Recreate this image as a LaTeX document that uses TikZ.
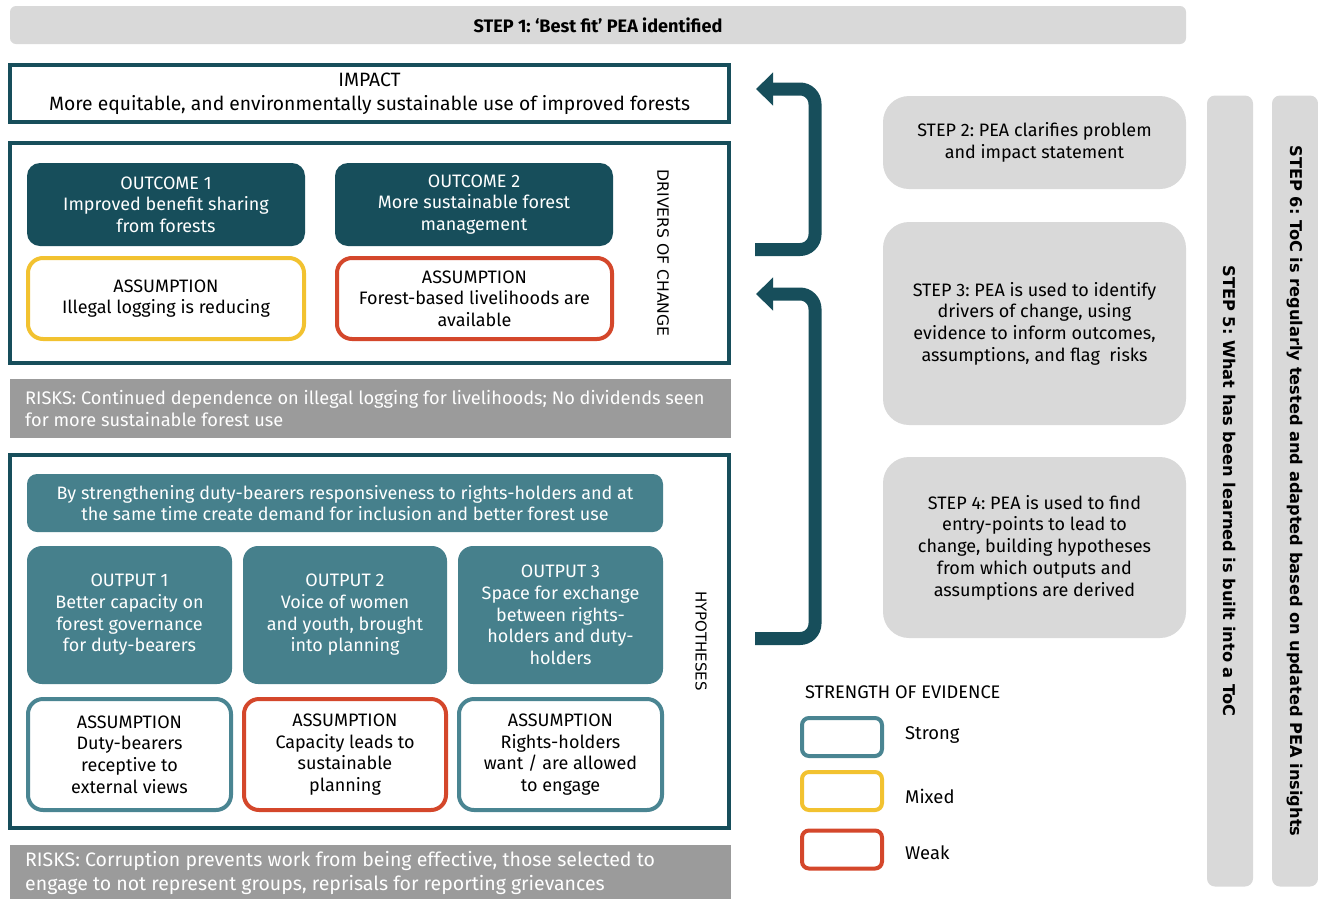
\documentclass[tikz,border=0pt]{standalone}
\usepackage{fontspec}
\setmainfont{Fira Sans}
\newfontfamily\vfont{DejaVu Sans}
\usetikzlibrary{arrows.meta}
\frenchspacing
\definecolor{dteal}{HTML}{174E5B}
\definecolor{mteal}{HTML}{46808C}
\definecolor{steal}{HTML}{4A8592}
\definecolor{myellow}{HTML}{F2C230}
\definecolor{mred}{HTML}{D4472B}
\definecolor{lgray}{HTML}{D9D9D9}
\definecolor{rgray}{HTML}{9B9B9B}
\tikzset{
  base/.style={inner sep=0pt, align=center, font=\frenchspacing\fontsize{18}{21.7}\selectfont},
  frame/.style={draw=dteal, line width=4pt, fill=white},
  darkbox/.style={base, fill=dteal, text=white, rounded corners=13pt},
  midbox/.style={base, fill=mteal, text=white, rounded corners=15pt},
  assume/.style={base, fill=white, line width=4pt, rounded corners=15pt},
  stepbox/.style={base, fill=lgray, rounded corners=26pt},
  riskbox/.style={fill=rgray},
  risktext/.style={inner sep=0pt, align=left, text=white},
  sidetext/.style={inner sep=0pt, rotate=-90, font=\vfont\fontsize{15}{16}\selectfont},
  stepbar/.style={fill=lgray, rounded corners=8pt},
  bartext/.style={inner sep=0pt, rotate=-90, font=\frenchspacing\vfont\bfseries\fontsize{16.2}{18}\selectfont},
  bigarrow/.style={draw=dteal, line width=13pt, rounded corners=15pt, -{Triangle[width=32pt,length=17pt]}},
  legbox/.style={draw, line width=4pt, rounded corners=7pt, minimum width=80pt, minimum height=38pt, inner sep=0pt},
  legtext/.style={inner sep=0pt, anchor=west, font=\fontsize{18.4}{20}\selectfont},
}
\begin{document}
\begin{tikzpicture}[x=1pt,y=-1pt]
\useasboundingbox (0,0) rectangle (1318,898);

% Step 1
\node[stepbox, rounded corners=6pt, minimum width=1176pt, minimum height=38pt,
      font=\frenchspacing\bfseries\fontsize{18.1}{20}\selectfont] (step1) at (598,25) {STEP 1: ‘Best fit’ PEA identified};

% Impact
\node[frame, base, font=\frenchspacing\fontsize{19.3}{24}\selectfont, minimum width=719pt, minimum height=57pt] (impact) at (369.5,93.5)
  {IMPACT\\More equitable, and environmentally sustainable use of improved forests};

% Drivers frame
\draw[frame] (10,143) rectangle (729,363);
\node[darkbox, minimum width=278pt, minimum height=83pt] (out1) at (166,204.5)
  {OUTCOME 1\\Improved benefit sharing\\from forests};
\node[darkbox, minimum width=278pt, minimum height=83pt] (out2) at (474,204.5)
  {OUTCOME 2\\More sustainable forest\\management};
\node[assume, draw=myellow, minimum width=276pt, minimum height=81pt] (as1) at (166,298.5)
  {ASSUMPTION\\Illegal logging is reducing};
\node[assume, draw=mred, minimum width=275pt, minimum height=81pt] (as2) at (474.5,298.5)
  {ASSUMPTION\\Forest-based livelihoods are\\available};
\node[sidetext, font=\vfont\fontsize{15.6}{16}\selectfont] (drivers) at (663,253) {DRIVERS OF CHANGE};

% Risks 1
\node[riskbox, minimum width=721pt, minimum height=59pt, inner sep=0pt] (risk1) at (370.5,408.5) {};
\node[risktext, anchor=west, font=\frenchspacing\fontsize{18.2}{22}\selectfont] (risk1t) at (25,409)
  {RISKS: Continued dependence on illegal logging for livelihoods; No dividends seen\\for more sustainable forest use};

% Hypotheses frame
\draw[frame] (10,455) rectangle (729,828);
\node[midbox, rounded corners=10pt, minimum width=636pt, minimum height=58pt] (hyp) at (345,503)
  {By strengthening duty-bearers responsiveness to rights-holders and at\\the same time create demand for inclusion and better forest use};
\node[midbox, minimum width=205pt, minimum height=138pt] (op1) at (129.5,615)
  {OUTPUT 1\\Better capacity on\\forest governance\\for duty-bearers};
\node[midbox, minimum width=204pt, minimum height=138pt] (op2) at (345,615)
  {OUTPUT 2\\Voice of women\\and youth, brought\\into planning};
\node[midbox, minimum width=205pt, minimum height=138pt] (op3) at (560.5,615)
  {OUTPUT 3\\Space for exchange\\between rights-\\holders and duty-\\holders};
\node[assume, draw=steal, minimum width=203pt, minimum height=111pt] (ha1) at (129.5,754.5)
  {ASSUMPTION\\Duty-bearers\\receptive to\\external views};
\node[assume, draw=mred, minimum width=202pt, minimum height=111pt] (ha2) at (345,754.5)
  {ASSUMPTION\\Capacity leads to\\sustainable\\planning};
\node[assume, draw=steal, minimum width=203pt, minimum height=111pt] (ha3) at (560.5,754.5)
  {ASSUMPTION\\Rights-holders\\want / are allowed\\to engage};
\node[sidetext] (hypl) at (701,641) {HYPOTHESES};

% Risks 2
\node[riskbox, minimum width=721pt, minimum height=60pt, inner sep=0pt] (risk2) at (370.5,875) {};
\node[risktext, anchor=west, font=\frenchspacing\fontsize{19.5}{24}\selectfont] (risk2t) at (25,873)
  {RISKS: Corruption prevents work from being effective, those selected to\\engage to not represent groups, reprisals for reporting grievances};

% Arrows
\coordinate (a1s) at (755,249.5);
\coordinate (a1e) at (756,89);
\coordinate (a2s) at (755,638.5);
\coordinate (a2e) at (756,294);
\draw[bigarrow] (a1s) -- (815,249.5) -- (815,89) -- (a1e);
\draw[bigarrow] (a2s) -- (815,638.5) -- (815,294) -- (a2e);

% Steps 2-4
\node[stepbox, minimum width=303pt, minimum height=93pt] (s2) at (1034.5,142.5)
  {STEP 2: PEA clarifies problem\\and impact statement};
\node[stepbox, minimum width=303pt, minimum height=203pt] (s3) at (1034.5,323.5)
  {STEP 3: PEA is used to identify\\drivers of change, using\\evidence to inform outcomes,\\assumptions, and flag\ \ risks};
\node[stepbox, minimum width=303pt, minimum height=181pt] (s4) at (1034.5,547.5)
  {STEP 4: PEA is used to find\\entry-points to lead to\\change, building hypotheses\\from which outputs and\\assumptions are derived};

% Step 5 / 6 bars
\node[stepbar, minimum width=46pt, minimum height=791pt, inner sep=0pt] (bar5) at (1230,491) {};
\node[stepbar, minimum width=46pt, minimum height=791pt, inner sep=0pt] (bar6) at (1295,491) {};
\node[bartext] (t5) at (bar5.center) {STEP 5: What has been learned is built into a ToC};
\node[bartext] (t6) at (bar6.center) {STEP 6: ToC is regularly tested and adapted based on updated PEA insights};

% Legend
\node[inner sep=0pt, anchor=west, font=\fontsize{18.2}{20}\selectfont] (legt) at (805,692) {STRENGTH OF EVIDENCE};
\node[legbox, draw=steal] (lg1) at (842,737) {};
\node[legbox, draw=myellow] (lg2) at (842,791) {};
\node[legbox, draw=mred] (lg3) at (842,849.5) {};
\node[legtext] (lt1) at (905,735) {Strong};
\node[legtext] (lt2) at (905,796) {Mixed};
\node[legtext] (lt3) at (905,853) {Weak};
\end{tikzpicture}
\end{document}
